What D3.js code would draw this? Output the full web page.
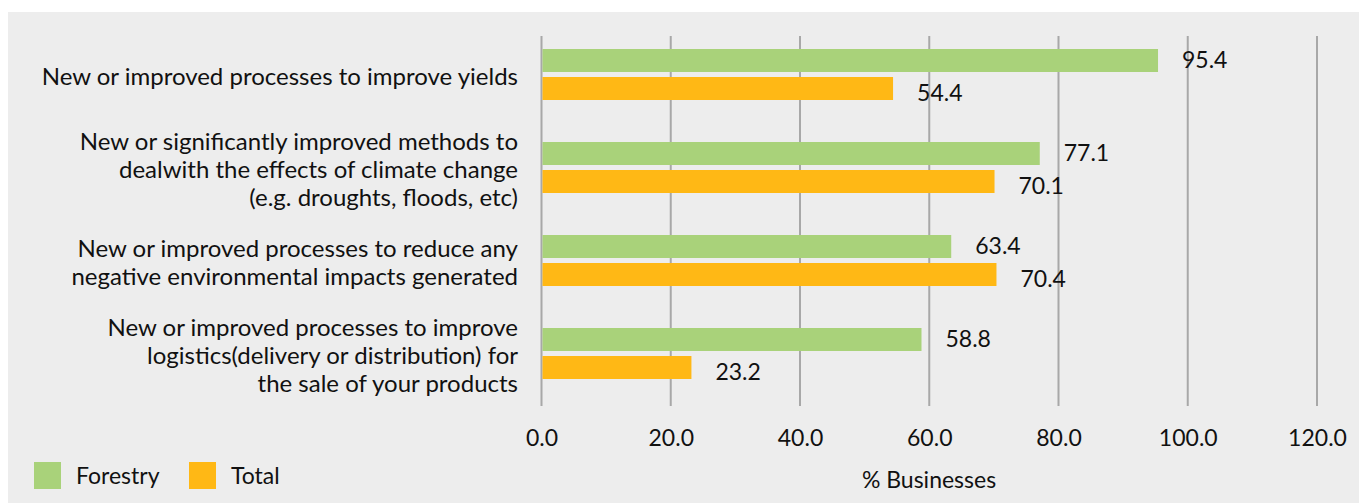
<!DOCTYPE html>
<html>
<head>
<meta charset="utf-8">
<script src="https://cdn.jsdelivr.net/npm/d3@7"></script>
<style>
  html, body { margin: 0; padding: 0; background: #ffffff; }
  svg { display: block; }
  text { font-family: "Lato", "Open Sans", sans-serif; fill: #111; }
</style>
</head>
<body>
<svg id="chart" width="1359" height="503"></svg>
<script>
// Innovation types (top to bottom), each label split into its display lines
const categories = [
  "New or improved processes to improve yields",
  "New or significantly improved methods to dealwith the effects of climate change (e.g. droughts, floods, etc)",
  "New or improved processes to reduce any negative environmental impacts generated",
  "New or improved processes to improve logistics(delivery or distribution) for the sale of your products"
];
const categoryLines = [
  ["New or improved processes to improve yields"],
  ["New or significantly improved methods to", "dealwith the effects of climate change", "(e.g. droughts, floods, etc)"],
  ["New or improved processes to reduce any", "negative environmental impacts generated"],
  ["New or improved processes to improve", "logistics(delivery or distribution) for", "the sale of your products"]
];
const seriesNames = ["Forestry", "Total"];
const forestry = [95.4, 77.1, 63.4, 58.8];
const total = [54.4, 70.1, 70.4, 23.2];
const xTicks = [0, 20, 40, 60, 80, 100, 120];
const axisTitle = "% Businesses";

const colors = { Forestry: "#a9d27a", Total: "#ffb815" };

const svg = d3.select("#chart");

// panel background
svg.append("rect")
  .attr("x", 8).attr("y", 12)
  .attr("width", 1359 - 8).attr("height", 503 - 12)
  .attr("fill", "#ededed");

const x = d3.scaleLinear().domain([0, 120]).range([541.5, 1317]);
const y0 = d3.scaleBand().domain(categories).range([36, 408]);
const y1 = d3.scaleBand().domain(seriesNames).range([13, 64]).paddingInner(5 / 28);

const plotTop = 36, plotBottom = 406;

// vertical gridlines (including the value axis at zero)
svg.append("g")
  .selectAll("line")
  .data(xTicks)
  .join("line")
  .attr("x1", d => x(d)).attr("x2", d => x(d))
  .attr("y1", plotTop).attr("y2", plotBottom)
  .attr("stroke", "#a8a8a8")
  .attr("stroke-width", 2);

// tick labels via d3 axis
const xAxis = d3.axisBottom(x)
  .tickValues(xTicks)
  .tickFormat(d3.format(".1f"))
  .tickSize(0)
  .tickPadding(0);
const gx = svg.append("g")
  .attr("transform", `translate(0, ${plotBottom})`)
  .call(xAxis);
gx.select(".domain").remove();
gx.selectAll("text")
  .attr("dy", null)
  .attr("y", 40)
  .style("font-family", '"Lato", sans-serif')
  .style("font-size", "23px")
  .attr("fill", "#111");

// rows of data
const rows = categories.map((c, i) => ({
  category: c,
  values: [
    { series: "Forestry", value: forestry[i] },
    { series: "Total", value: total[i] }
  ]
}));

const groups = svg.append("g")
  .selectAll("g")
  .data(rows)
  .join("g")
  .attr("transform", d => `translate(0, ${y0(d.category)})`);

groups.selectAll("rect")
  .data(d => d.values)
  .join("rect")
  .attr("x", x(0) + 1)
  .attr("y", d => y1(d.series))
  .attr("width", d => x(d.value) - x(0) - 1)
  .attr("height", y1.bandwidth())
  .attr("fill", d => colors[d.series]);

// value labels
groups.selectAll("text.val")
  .data(d => d.values)
  .join("text")
  .attr("class", "val")
  .attr("x", d => x(d.value) + 24)
  .attr("y", d => y1(d.series) + y1.bandwidth() / 2 + (d.series === "Total" ? 4 : -1))
  .attr("dy", "0.36em")
  .style("font-size", "23px")
  .text(d => d.value.toFixed(1));

// category labels, right-aligned, centred on each group of bars
const lineH = 28;
const catG = svg.append("g");
categoryLines.forEach((lines, i) => {
  const cy = y0(categories[i]) + 13 + 51 / 2 + 2;
  const t = catG.append("text")
    .attr("text-anchor", "end")
    .style("font-size", "24px");
  lines.forEach((ln, j) => {
    t.append("tspan")
      .attr("x", 518)
      .attr("y", cy + (j - (lines.length - 1) / 2) * lineH)
      .attr("dy", "0.36em")
      .text(ln);
  });
});

// axis title
svg.append("text")
  .attr("x", 929).attr("y", 480)
  .attr("text-anchor", "middle")
  .attr("dy", "0.36em")
  .style("font-size", "23px")
  .text(axisTitle);

// legend
const legend = svg.append("g").attr("transform", "translate(34, 462)");
const legendX = [0, 155];
seriesNames.forEach((s, i) => {
  const g = legend.append("g").attr("transform", `translate(${legendX[i]}, 0)`);
  g.append("rect").attr("width", 27).attr("height", 27).attr("fill", colors[s]);
  g.append("text").attr("x", 42).attr("y", 14).attr("dy", "0.36em")
    .style("font-size", "23px").text(s);
});
</script>
</body>
</html>
